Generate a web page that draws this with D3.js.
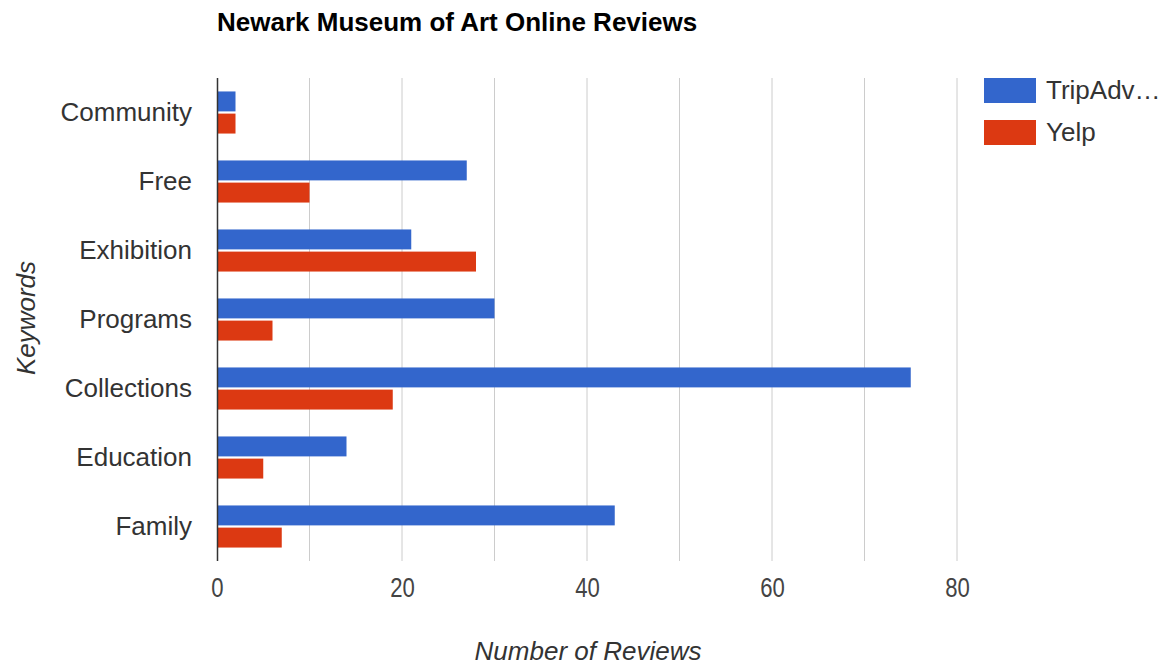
<!DOCTYPE html>
<html>
<head>
<meta charset="utf-8">
<script src="https://cdn.jsdelivr.net/npm/d3@7"></script>
<style>
  body { margin: 0; background: #fff; }
  text { font-family: "Liberation Sans", Arial, sans-serif; }
</style>
</head>
<body>
<svg id="chart" width="1162" height="667"></svg>
<script>
// keywords from top to bottom
const keywords = ['Community', 'Free', 'Exhibition', 'Programs', 'Collections', 'Education', 'Family'];
const seriesNames = ['TripAdvisor', 'Yelp'];
const tripAdvisor = [2, 27, 21, 30, 75, 14, 43];
const yelp = [2, 10, 28, 6, 19, 5, 7];
const xTicks = [0, 20, 40, 60, 80];
const colors = ['#3366cc', '#dc3912'];

const svg = d3.select('#chart');
const margin = { top: 78, left: 217, right: 205, bottom: 105 };
const width = 957 - margin.left;
const height = 561 - margin.top;
const g = svg.append('g').attr('transform', `translate(${margin.left},${margin.top})`);

const x = d3.scaleLinear().domain([0, 80]).range([0, width]);
const y = d3.scaleBand().domain(keywords).range([0, height]).paddingInner(0.39).paddingOuter(0.195);
const inner = d3.scaleBand().domain(seriesNames).range([0, y.bandwidth()]).paddingInner(0.1);

// gridlines every 10
g.selectAll('.grid')
  .data(d3.range(10, 81, 10))
  .enter().append('line')
  .attr('x1', d => x(d)).attr('x2', d => x(d))
  .attr('y1', 0).attr('y2', height)
  .attr('stroke', '#cccccc').attr('stroke-width', 1);

const rows = keywords.map((k, i) => ({ key: k, values: [tripAdvisor[i], yelp[i]] }));

const grp = g.selectAll('.grp')
  .data(rows)
  .enter().append('g')
  .attr('transform', d => `translate(0,${y(d.key)})`);

grp.selectAll('rect')
  .data(d => d.values.map((v, j) => ({ name: seriesNames[j], v, j })))
  .enter().append('rect')
  .attr('x', 0)
  .attr('y', d => inner(d.name))
  .attr('width', d => x(d.v))
  .attr('height', inner.bandwidth())
  .attr('fill', d => colors[d.j]);

// baseline
g.append('line')
  .attr('x1', 0.5).attr('x2', 0.5).attr('y1', 0).attr('y2', height)
  .attr('stroke', '#333').attr('stroke-width', 1.5);

// x tick labels (look a bit condensed in the original)
const xAxis = g.append('g')
  .attr('transform', `translate(0,${height})`)
  .call(d3.axisBottom(x).tickValues(xTicks).tickSize(0));
xAxis.select('.domain').remove();
xAxis.selectAll('text')
  .attr('y', 36).attr('dy', 0)
  .attr('transform', 'scale(0.82,1)')
  .attr('font-size', 27).attr('fill', '#444');

// category labels
const yAxis = g.append('g')
  .call(d3.axisLeft(y).tickSize(0).tickPadding(25));
yAxis.select('.domain').remove();
yAxis.selectAll('text').attr('font-size', 26).attr('fill', '#333');

// title
svg.append('text')
  .attr('x', 217).attr('y', 31)
  .attr('font-size', 26).attr('font-weight', 'bold').attr('fill', '#000')
  .text('Newark Museum of Art Online Reviews');

// axis titles
svg.append('text')
  .attr('x', 588).attr('y', 660)
  .attr('text-anchor', 'middle')
  .attr('font-size', 26).attr('font-style', 'italic').attr('fill', '#333')
  .text('Number of Reviews');

svg.append('text')
  .attr('transform', 'translate(35,318) rotate(-90)')
  .attr('text-anchor', 'middle')
  .attr('font-size', 26).attr('font-style', 'italic').attr('fill', '#333')
  .text('Keywords');

// legend
const legend = svg.append('g').attr('transform', 'translate(984,78)');
const legendLabels = ['TripAdv\u2026', 'Yelp'];
seriesNames.forEach((s, i) => {
  legend.append('rect')
    .attr('x', 0).attr('y', i * 42)
    .attr('width', 52).attr('height', 25)
    .attr('fill', colors[i]);
  legend.append('text')
    .attr('x', 62).attr('y', i * 42 + 21)
    .attr('font-size', 26).attr('fill', '#333')
    .text(legendLabels[i]);
});
</script>
</body>
</html>
